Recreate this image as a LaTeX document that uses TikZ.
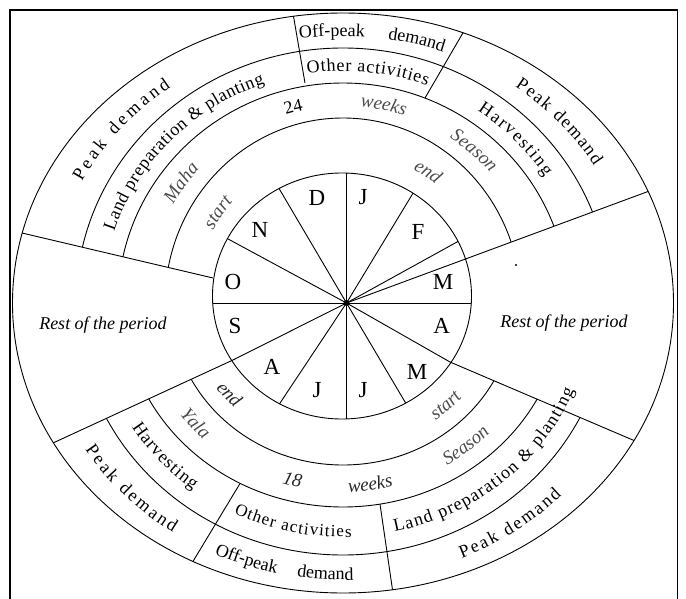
\documentclass[tikz,border=0pt]{standalone}
\usepackage{fontspec}
\setmainfont{Liberation Serif}
\usetikzlibrary{decorations.text}
\newcommand\rfont{\fontsize{18}{21}\selectfont}
\newcommand\rsfont{\fontsize{17}{20}\selectfont}
\newcommand\ifont{\fontsize{19}{21}\selectfont\itshape\color{soft}}
\newcommand\idfont{\fontsize{19}{21}\selectfont\itshape\color{softdark}}
\colorlet{soft}{black!70}
\colorlet{softdark}{black!85}
\newcommand\arctext[6][center]{%
  \path[decorate,decoration={text along path,text align=#1,text={#2}}]
    (#3:#5 and #6) arc[start angle=#3,end angle=#4,x radius=#5,y radius=#6];}
\begin{document}
\begin{tikzpicture}[x=1pt,y=1pt,line width=0.9pt,
  month/.style={font=\fontsize{23}{25}\selectfont,inner sep=0pt},
  rest/.style={font=\fontsize{18}{20}\selectfont\itshape,inner sep=0pt},
  frame/.style={line width=1.8pt}]
\useasboundingbox (-343,-295) rectangle (343,303);
\coordinate (O) at (0,0);
\coordinate (H) at (3.5,0);
\coordinate (IC) at (-1,7);
\coordinate (UL1) at (-130,25);
\coordinate (UL2) at (-321,70);
\coordinate (UR2) at (305,111.5);
\coordinate (LL1) at (-110,-57);
\coordinate (LL2) at (-289.6,-139.8);
\coordinate (LR1) at (107,-59);
\coordinate (LR2) at (291,-137.5);
\coordinate (TLa) at (-38,220);   \coordinate (TLb) at (-49.5,286.7);
\coordinate (TRa) at (82,205);    \coordinate (TRb) at (120,270.2);
\coordinate (BLa) at (-103,-180.5); \coordinate (BLb) at (-150,-258.4);
\coordinate (BRa) at (37,-201);   \coordinate (BRb) at (49.5,-286.7);

% frame
\draw[frame] (-333,-300) -- (-333,293) -- (334.5,293) -- (334.5,-300);
% outer and inner ellipses
\draw (O) ellipse[x radius=330.5,y radius=290];
\draw (IC) ellipse[x radius=129.5,y radius=123];

% upper (Maha) arcs
\begin{scope}
 \clip (UL1) -- (-607.5,137.5) -- (-607.5,500) -- (700,500) -- (666.8,245.3) -- (H) -- cycle;
 \draw (O) ellipse[x radius=178,y radius=185];
 \draw (O) ellipse[x radius=225,y radius=220];
 \draw (O) ellipse[x radius=267,y radius=255];
\end{scope}
% lower (Yala) arcs
\begin{scope}
 \clip (LL1) -- (-505.1,-239.2) -- (-505.1,-500) -- (512,-500) -- (511.8,-231.7) -- (LR1) -- cycle;
 \draw (O) ellipse[x radius=172,y radius=162];
 \draw (O) ellipse[x radius=220,y radius=204];
 \draw (O) ellipse[x radius=266,y radius=252];
\end{scope}

% month lines
\begin{scope}
 \clip (IC) ellipse[x radius=129.5,y radius=123];
 \foreach \a in {90,270,0,180,120.5,151.6,58.8,28.9,-59.4,-123.6}
   \draw (H) -- ++(\a:160);
\end{scope}
% dividers
\draw (UL1) -- (UL2);
\draw (H) -- (UR2);
\draw (H) -- (LL1) -- (LL2);
\draw (H) -- (LR1) -- (LR2);
\draw (TLa) -- (TLb);
\draw (TRa) -- (TRb);
\draw (BLa) -- (BLb);
\draw (BRa) -- (BRb);
\fill (H) circle (3);
\fill (173,38) circle (1.1);

% months
\node[month] (mJ1) at (20,106) {J};
\node[month] (mF) at (75,71) {F};
\node[month] (mM1) at (100,21) {M};
\node[month] (mA1) at (98.7,-23) {A};
\node[month] (mM2) at (74,-69) {M};
\node[month] (mJ2) at (20,-87) {J};
\node[month] (mJ3) at (-26,-87) {J};
\node[month] (mA2) at (-71,-64) {A};
\node[month] (mS) at (-108,-23) {S};
\node[month] (mO) at (-110,21) {O};
\node[month] (mN) at (-83,73) {N};
\node[month] (mD) at (-26,105) {D};

\node[rest] (restL) at (-240,-22) {Rest of the period};
\node[rest] (restR) at (221,-20) {Rest of the period};

% upper ring texts
\arctext[fit to path stretching spaces]{|\rfont|Off-peak demand}{98.5}{70}{293}{267}
\arctext[fit to path]{|\rfont|Peak demand}{153}{126}{293}{267}
\arctext[fit to path]{|\rfont|Peak demand}{54}{31}{293}{267}
\arctext[fit to path]{|\rfont|Other activities}{98.5}{69.5}{240.5}{232}
\arctext[fit to path]{|\rfont|Land preparation {\&} planting}{162}{109}{240.5}{232}
\arctext[fit to path]{|\rfont|Harvesting}{56}{33}{240.5}{232}
\arctext{|\ifont|Maha}{163.5}{123.5}{196}{197}
\arctext{|\rfont|24}{124.3}{84.3}{196}{197}
\arctext{|\ifont|weeks}{98.3}{58.3}{196}{197}
\arctext{|\ifont|Season}{69.2}{29.2}{196}{197}
\arctext{|\ifont|start}{164.7}{124.7}{148}{152}
\arctext{|\ifont|end}{76.5}{36.5}{148}{152}

% lower ring texts
\arctext[fit to path]{|\rfont|Peak demand}{212}{236}{304}{277}
\arctext[fit to path stretching spaces]{|\rfont|Off-peak demand}{245}{272}{304}{277}
\arctext[fit to path]{|\rfont|Peak demand}{293}{316}{304}{277}
\arctext[fit to path]{|\rfont|Harvesting}{212}{233}{249}{234}
\arctext[fit to path]{|\rsfont|Other activities}{244}{272}{249}{234}
\arctext[fit to path]{|\rfont|Land preparation {\&} planting}{282}{338}{249}{234}
\arctext{|\ifont|Yala}{201}{241}{202}{189}
\arctext{|\idfont|18}{235}{275}{202}{189}
\arctext{|\idfont|weeks}{258}{298}{202}{189}
\arctext{|\ifont|Season}{289}{329}{202}{189}
\arctext{|\idfont|end}{201}{241}{157}{145}
\arctext{|\ifont|start}{293}{333}{157}{145}
\end{tikzpicture}
\end{document}
